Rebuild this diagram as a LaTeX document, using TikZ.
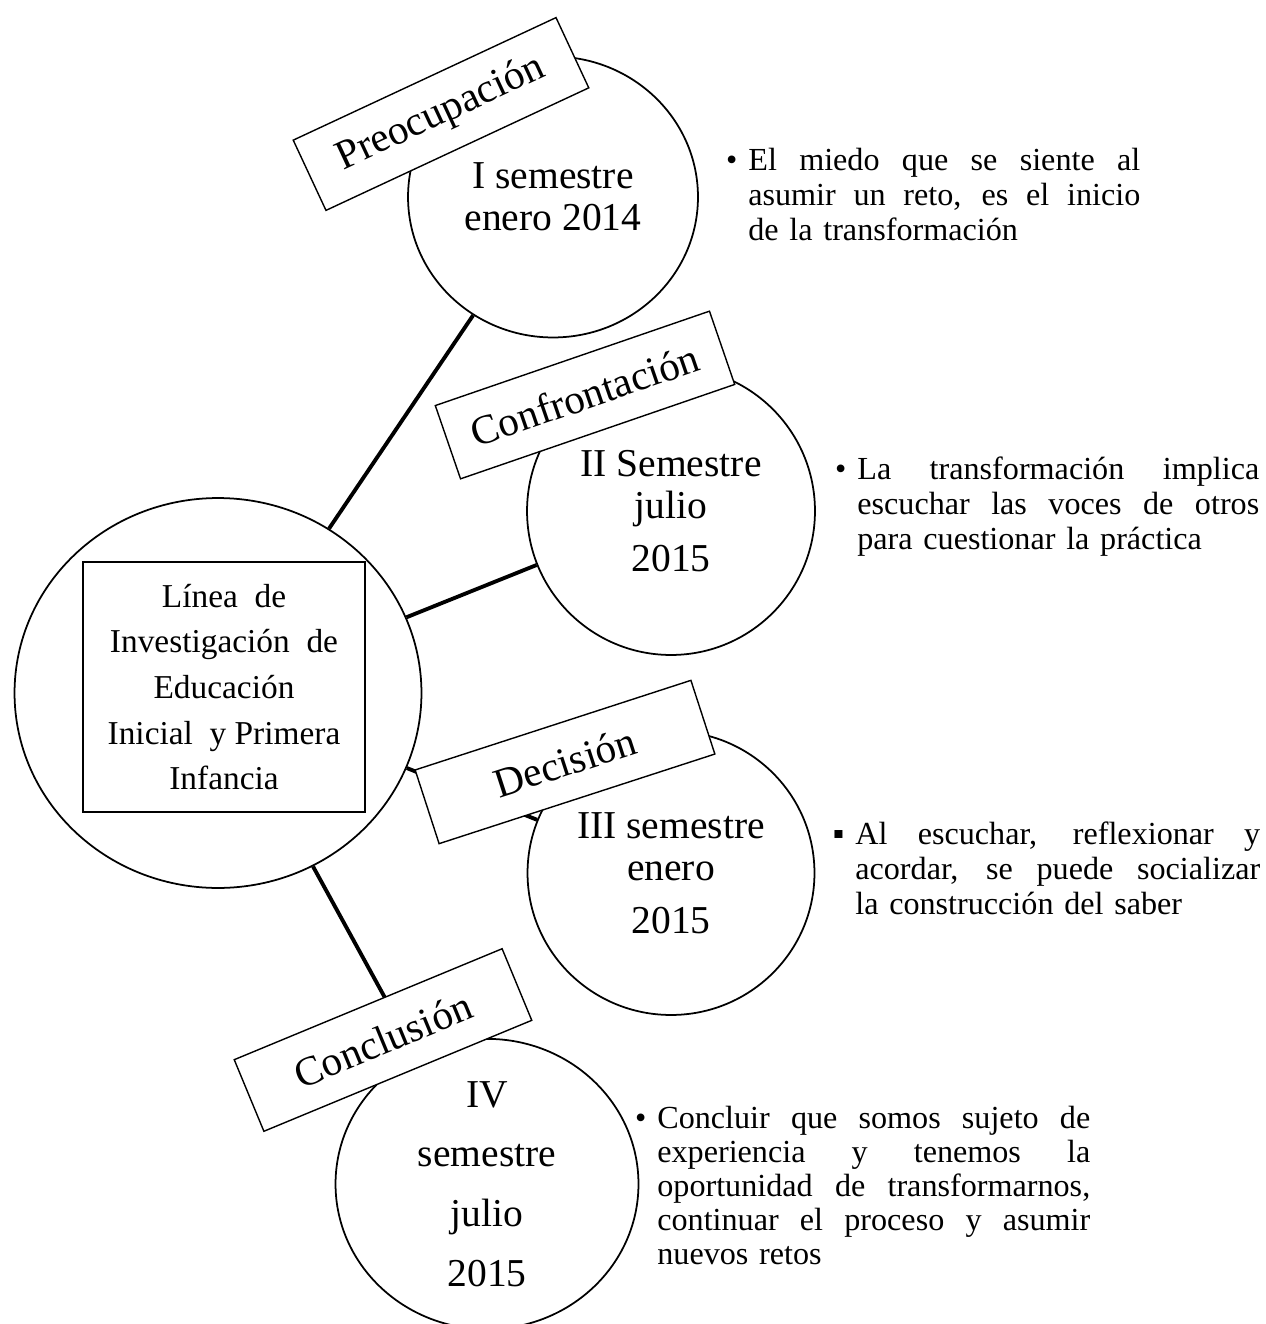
\documentclass[tikz,border=0pt]{standalone}
\usepackage{fontspec}
\setmainfont{Liberation Serif}
\usetikzlibrary{shapes.geometric}
\tikzset{
  stage/.style={ellipse,draw,fill=white,line width=1pt,inner sep=0pt,align=center,
    font=\fontsize{22.5}{24}\selectfont},
  phase/.style={rectangle,draw,fill=white,line width=0.8pt,inner sep=0pt,
    minimum width=5.8cm,minimum height=1.55cm,font=\fontsize{23.5}{26}\selectfont},
  link/.style={line width=2.2pt},
  note/.style={anchor=north west,inner sep=0pt,align=left,
    font=\fontsize{18.3}{19.9}\selectfont}
}
\newlength{\notewidth}
\newcommand{\jl}[1]{\makebox[\notewidth][s]{\spaceskip=0.25em plus 1em\relax #1}}
\newcommand{\bul}[1]{\leavevmode\llap{#1\hspace{0.22cm}}}

\begin{document}
\begin{tikzpicture}[x=0.02cm,y=-0.02cm]
  \useasboundingbox (0,0) rectangle (1265,1324);

  % circles
  \node[stage,minimum width=8.14cm,minimum height=7.8cm] (root) at (218,693) {};
  \node[draw,line width=1.2pt,minimum width=5.64cm,minimum height=5cm,align=center,
    font=\fontsize{19}{26}\selectfont] (title) at (224,687)
    {Línea\ \ de\\Investigación\ \ de\\Educación\\Inicial\ \ y Primera\\Infancia};
  \node[stage,minimum width=5.8cm,minimum height=5.62cm] (s1) at (553,197)
    {I semestre\\enero 2014};
  \node[stage,minimum width=5.76cm,minimum height=5.76cm] (s2) at (671,511)
    {II Semestre\\julio\\[0.22cm]2015};
  \node[stage,minimum width=5.74cm,minimum height=5.68cm] (s3) at (671,873)
    {III semestre\\enero\\[0.22cm]2015};
  \node[stage,minimum width=6.06cm,minimum height=5.54cm] (s4) at (487,1184)
    {IV\\[0.35cm]semestre\\[0.35cm]julio\\[0.35cm]2015};

  % connectors
  \draw[link] (root) -- (s1);
  \draw[link] (root) -- (s2);
  \draw[link] (root) -- (s3);
  \draw[link] (root) -- (s4);

  % phase labels
  \node[phase,rotate=25] (p1) at (441,114) {Preocupación};
  \node[phase,rotate=19] (p2) at (585,395) {Confrontación};
  \node[phase,rotate=18] (p3) at (565,762) {Decisión};
  \node[phase,rotate=22.5] (p4) at (383,1040) {Conclusión};

  % notes
  \node[note,text width=7.84cm] (n1) at (748,148)
    {\setlength{\notewidth}{7.84cm}%
     \bul{\textbullet}\jl{El miedo que se siente al}\\
     \jl{asumir un reto, es el inicio}\\
     de la transformación};
  \node[note,text width=8.04cm] (n2) at (857,457)
    {\setlength{\notewidth}{8.04cm}%
     \bul{\textbullet}\jl{La transformación implica}\\
     \jl{escuchar las voces de otros}\\
     para cuestionar la práctica};
  \node[note,text width=8.1cm] (n3) at (855,822)
    {\setlength{\notewidth}{8.1cm}%
     \bul{▪}\jl{Al escuchar, reflexionar y}\\
     \jl{acordar, se puede socializar}\\
     la construcción del saber};
  \node[note,text width=8.66cm,font=\fontsize{18.3}{19.3}\selectfont] (n4) at (657,1106)
    {\setlength{\notewidth}{8.66cm}%
     \bul{\textbullet}\jl{Concluir que somos sujeto de}\\
     \jl{experiencia y tenemos la}\\
     \jl{oportunidad de transformarnos,}\\
     \jl{continuar el proceso y asumir}\\
     nuevos retos};
\end{tikzpicture}
\end{document}
